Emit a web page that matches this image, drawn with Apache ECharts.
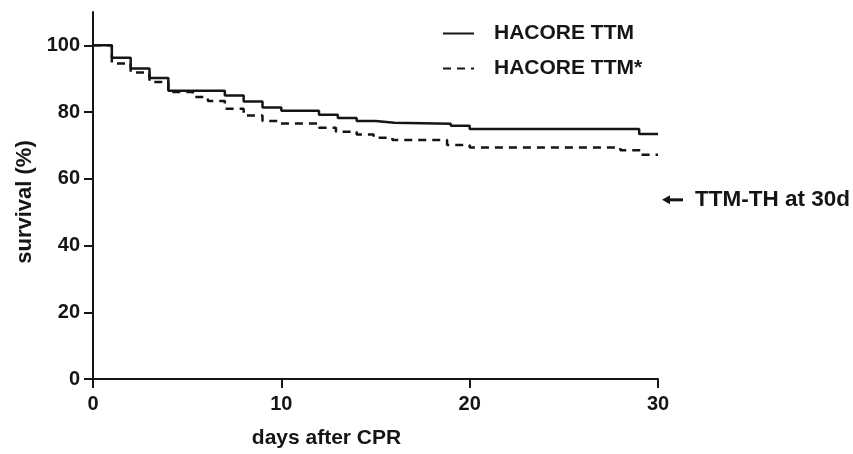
<!DOCTYPE html>
<html>
<head>
<meta charset="utf-8">
<script src="https://cdn.jsdelivr.net/npm/echarts@6/dist/echarts.min.js"></script>
<style>
html,body{margin:0;padding:0;background:#fff;}
#chart{width:853px;height:454px;}
</style>
</head>
<body>
<div id="chart"></div>
<script>
// ---- data ----
var seriesNames = ['HACORE TTM', 'HACORE TTM*'];
var ttmDays = [0, 1, 2, 3, 4, 7, 8, 9, 10, 12, 13, 14, 15, 16, 19, 20, 29, 30];
var ttmSurvival = [100, 96.3, 93.1, 90.2, 86.4, 85.0, 83.2, 81.4, 80.4, 79.2, 78.2, 77.3, 76.8, 76.5, 75.9, 74.9, 73.4, 73.4];
var ttmStarDays = [0, 1, 2, 3, 4, 5.3, 6.1, 7, 8, 9, 9.8, 12, 12.9, 14, 14.9, 15.9, 18.8, 20, 28, 29.1, 30];
var ttmStarSurvival = [100, 94.6, 91.9, 89.0, 86.0, 84.5, 83.3, 81.0, 79.0, 77.3, 76.6, 75.3, 74.1, 73.3, 72.3, 71.6, 70.1, 69.4, 68.6, 67.2, 67.2];
var xTicks = [0, 10, 20, 30];
var yTicks = [0, 20, 40, 60, 80, 100];
var refLabel = 'TTM-TH at 30d';
var refPoint = [30, 53.7];

function pairs(xs, ys) { return xs.map(function (x, i) { return [x, ys[i]]; }); }

var ink = '#151515';
var font = 'Liberation Sans, Arial, sans-serif';
var chart = echarts.init(document.getElementById('chart'), null, {renderer: 'canvas'});

var option = {
  animation: false,
  backgroundColor: '#fff',
  textStyle: {fontFamily: font, color: ink},
  grid: {left: 93, right: 195, top: 12, bottom: 71, containLabel: false},
  legend: {
    orient: 'vertical', left: 437, top: 18,
    itemWidth: 31, itemHeight: 20, itemGap: 14,
    itemStyle: {color: 'transparent', borderWidth: 0, opacity: 0},
    textStyle: {fontSize: 21, fontWeight: 'bold', color: ink, fontFamily: font, padding: [0, 0, 0, 15]},
    data: seriesNames
  },
  xAxis: {
    type: 'value', min: 0, max: 30, interval: 10,
    name: 'days after CPR', nameLocation: 'middle', nameGap: 49,
    nameTextStyle: {fontSize: 21, fontWeight: 'bold', color: ink, fontFamily: font, padding: [0, 98, 0, 0]},
    axisLine: {lineStyle: {color: ink, width: 2}},
    axisTick: {length: 9, lineStyle: {color: ink, width: 2}, customValues: xTicks},
    axisLabel: {fontSize: 20, fontWeight: 'bold', color: ink, margin: 15, customValues: xTicks},
    splitLine: {show: false}
  },
  yAxis: {
    type: 'value', min: 0, max: 110, interval: 20,
    name: 'survival (%)', nameLocation: 'middle', nameGap: 53,
    nameTextStyle: {fontSize: 22, fontWeight: 'bold', color: ink, fontFamily: font, padding: [0, 13, 0, 0]},
    axisLine: {show: true, lineStyle: {color: ink, width: 2}},
    axisTick: {show: true, length: 9, lineStyle: {color: ink, width: 2}, customValues: yTicks},
    axisLabel: {fontSize: 20, fontWeight: 'bold', color: ink, margin: 13, customValues: yTicks},
    splitLine: {show: false}
  },
  series: [
    {
      name: seriesNames[0], type: 'line', step: 'end', symbol: 'circle', showSymbol: false,
      lineStyle: {color: ink, width: 2.5}, itemStyle: {color: ink},
      data: pairs(ttmDays, ttmSurvival), z: 3
    },
    {
      name: seriesNames[1], type: 'line', step: 'end', symbol: 'circle', showSymbol: false,
      lineStyle: {color: ink, width: 2.5, type: [8, 6]}, itemStyle: {color: ink},
      data: pairs(ttmStarDays, ttmStarSurvival), z: 2
    }
  ]
};
chart.setOption(option);

var p = chart.convertToPixel({gridIndex: 0}, refPoint);
var ax = p[0] + 4, ay = p[1];
chart.setOption({
  graphic: [
    {type: 'line', shape: {x1: ax + 5, y1: ay, x2: ax + 21, y2: ay}, style: {stroke: ink, lineWidth: 3}},
    {type: 'polygon', shape: {points: [[ax, ay], [ax + 8, ay - 4.5], [ax + 8, ay + 4.5]]}, style: {fill: ink}},
    {type: 'text', left: ax + 33, top: ay - 12,
      style: {text: refLabel, fontSize: 22.5, fontWeight: 'bold', fill: ink, fontFamily: font}}
  ]
});
</script>
</body>
</html>
